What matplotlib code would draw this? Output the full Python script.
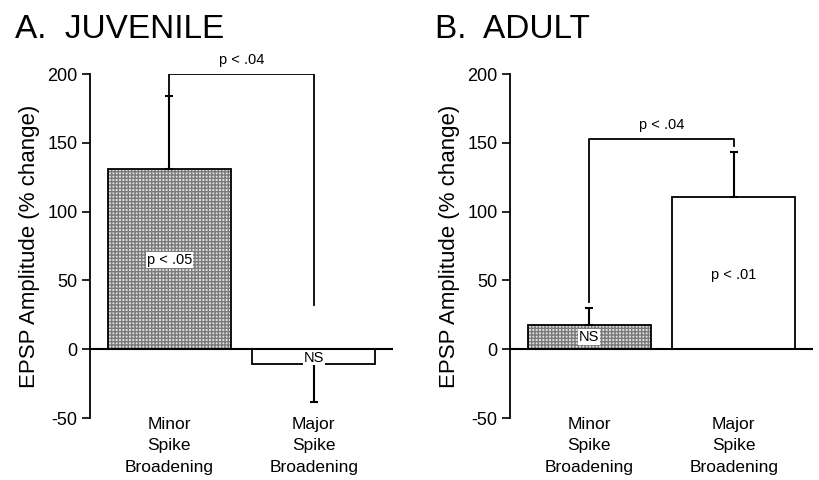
import matplotlib
matplotlib.use("Agg")
import matplotlib.pyplot as plt

plt.rcParams['font.family'] = ['Liberation Sans', 'DejaVu Sans']
plt.rcParams['axes.unicode_minus'] = False

groups = ["Minor\nSpike\nBroadening", "Major\nSpike\nBroadening"]
xpos = [1, 2]

# mean % change and SEM for each group
juv_means = [131, -11]
juv_errs = [53, 27]
adult_means = [18, 111]
adult_errs = [12, 32.5]

# significance text inside the bars: (x, y, text)
juv_inner = [(1, 65, "p < .05"), (2, -6, "NS")]
adult_inner = [(1, 9, "NS"), (2, 54, "p < .01")]

# comparison brackets: top height and the lower end of each leg
juv_bracket = (200, [184, 32], "p < .04")
adult_bracket = (153, [34, 147.5], "p < .04")

juv_fills = ["stipple", "white"]
adult_fills = ["stipple", "white"]


def draw_panel(ax, means, errs, fill_kinds, inner, bracket):
    width = 0.85
    for x, m, e, kind in zip(xpos, means, errs, fill_kinds):
        if kind == "stipple":
            ax.bar(x, m, width, color="#e0e0e0", edgecolor="#7a7a7a",
                   hatch="+++++", linewidth=0, zorder=2)
        else:
            ax.bar(x, m, width, color="white", linewidth=0, zorder=2)
        ax.bar(x, m, width, fill=False, edgecolor="black", linewidth=1.3, zorder=3)
        # one-sided error bar, pointing away from zero
        if m >= 0:
            ax.errorbar(x, m, yerr=[[0], [e]], fmt="none", ecolor="black",
                        elinewidth=1.5, capsize=3, capthick=1.5, zorder=3)
        else:
            ax.errorbar(x, m, yerr=[[e], [0]], fmt="none", ecolor="black",
                        elinewidth=1.5, capsize=3, capthick=1.5, zorder=3)

    for x, y, t in inner:
        ax.text(x, y, t, ha="center", va="center", fontsize=10.5, zorder=4,
                bbox=dict(facecolor="white", edgecolor="none", pad=0.5))

    top, legs, label = bracket
    ax.plot([xpos[0], xpos[0], xpos[1], xpos[1]], [legs[0], top, top, legs[1]],
            color="black", linewidth=1.3, zorder=3)
    ax.text(sum(xpos) / 2, top + 5, label, ha="center", va="bottom", fontsize=10.5)

    ax.axhline(0, color="black", linewidth=1.5, zorder=4)
    ax.set_xlim(0.45, 2.55)
    ax.set_ylim(-50, 200)
    ax.set_yticks([-50, 0, 50, 100, 150, 200])
    ax.tick_params(axis="y", direction="out", length=6, width=1.2, labelsize=13, pad=3)
    ax.set_xticks([])
    for side in ["top", "right", "bottom"]:
        ax.spines[side].set_visible(False)
    ax.spines["left"].set_linewidth(1.3)
    ax.set_ylabel("EPSP Amplitude (% change)", fontsize=16, labelpad=5)

    for x, g in zip(xpos, groups):
        ax.text(x, -49, g, ha="center", va="top", fontsize=12.5, linespacing=1.55)


fig = plt.figure(figsize=(8.19, 4.80), dpi=100)
ax_a = fig.add_axes([0.1099, 0.129, 0.370, 0.7167])
ax_b = fig.add_axes([0.6227, 0.129, 0.370, 0.7167])

draw_panel(ax_a, juv_means, juv_errs, juv_fills, juv_inner, juv_bracket)
draw_panel(ax_b, adult_means, adult_errs, adult_fills, adult_inner, adult_bracket)

fig.text(15 / 819, 0.92, "A.  JUVENILE", fontsize=24, va="baseline", ha="left")
fig.text(435 / 819, 0.92, "B.  ADULT", fontsize=24, va="baseline", ha="left")

fig.savefig("out.png", dpi=100)
